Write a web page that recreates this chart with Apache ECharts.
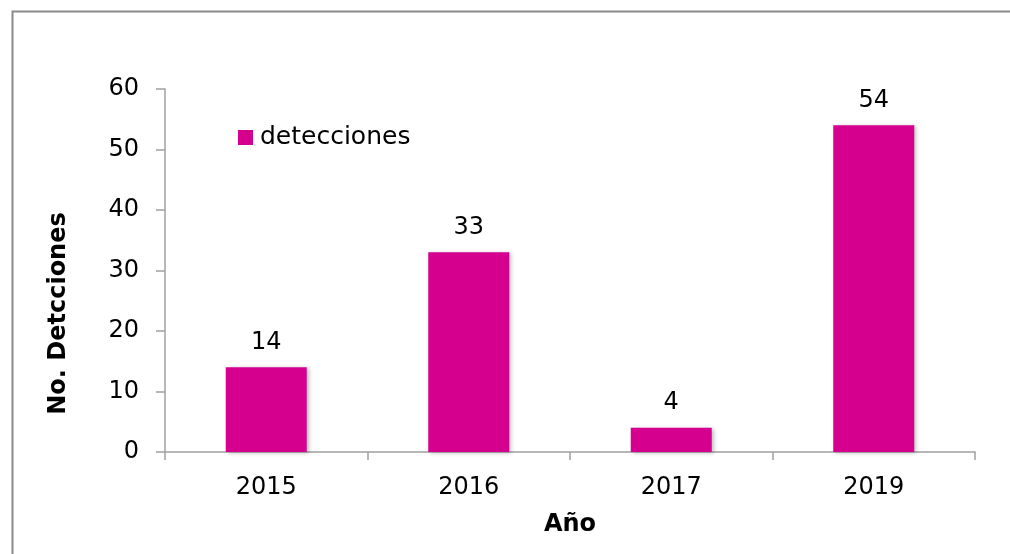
<!DOCTYPE html>
<html>
<head>
<meta charset="utf-8">
<script src="https://cdn.jsdelivr.net/npm/echarts@6/dist/echarts.min.js"></script>
<style>
  html, body { margin: 0; padding: 0; background: #fff; }
  #chart { width: 1010px; height: 554px; }
</style>
</head>
<body>
<div id="chart"></div>
<script>
// Detections per year
const years = ['2015', '2016', '2017', '2019'];
const detecciones = [14, 33, 4, 54];
const yTicks = { min: 0, max: 60, interval: 10 };

const barColor = '#d6008f';
const axisColor = '#a0a0a0';
const fontFamily = 'DejaVu Sans';

const chart = echarts.init(document.getElementById('chart'), null, { renderer: 'canvas' });

chart.setOption({
  backgroundColor: '#ffffff',
  animation: false,
  textStyle: { fontFamily: fontFamily, color: '#000' },
  graphic: [{
    type: 'rect',
    left: 10, top: 9,
    shape: { width: 1100, height: 600 },
    style: { fill: 'none', stroke: '#8a8a8a', lineWidth: 2 },
    z: -1
  }],
  grid: { left: 165, right: 35, top: 89, bottom: 102 },
  legend: {
    left: 238, top: 125,
    padding: 0,
    itemWidth: 15, itemHeight: 15, itemGap: 10,
    icon: 'rect',
    textStyle: { fontFamily: fontFamily, fontSize: 25, color: '#000', padding: [0, 0, 0, 2] },
    data: ['detecciones']
  },
  xAxis: {
    type: 'category',
    data: years,
    name: 'Año',
    nameLocation: 'middle',
    nameGap: 61,
    nameTextStyle: { fontFamily: fontFamily, fontSize: 24, fontWeight: 'bold', color: '#000' },
    axisLine: { lineStyle: { color: axisColor, width: 1.5 } },
    axisTick: { show: true, length: 8, lineStyle: { color: axisColor, width: 1.5 } },
    axisLabel: { fontFamily: fontFamily, fontSize: 24, color: '#000', margin: 24 }
  },
  yAxis: {
    type: 'value',
    min: yTicks.min, max: yTicks.max, interval: yTicks.interval,
    name: 'No. Detcciones',
    nameLocation: 'middle',
    nameGap: 94,
    nameRotate: 90,
    nameTextStyle: {
      fontFamily: fontFamily, fontSize: 24, fontWeight: 'bold', color: '#000',
      // title sits a little below the axis midpoint
      padding: [0, 86, 0, 0]
    },
    splitLine: { show: false },
    axisLine: { show: true, lineStyle: { color: axisColor, width: 1.5 } },
    axisTick: { show: true, length: 9, lineStyle: { color: axisColor, width: 1.5 } },
    axisLabel: { fontFamily: fontFamily, fontSize: 24, color: '#000', margin: 26 }
  },
  series: [{
    name: 'detecciones',
    type: 'bar',
    data: detecciones,
    barWidth: '40%',
    itemStyle: {
      color: barColor,
      shadowColor: 'rgba(0,0,0,0.25)',
      shadowBlur: 4,
      shadowOffsetX: 2,
      shadowOffsetY: 1
    },
    label: {
      show: true,
      position: 'top',
      distance: 13,
      fontFamily: fontFamily,
      fontSize: 24,
      color: '#000'
    }
  }]
});
</script>
</body>
</html>
